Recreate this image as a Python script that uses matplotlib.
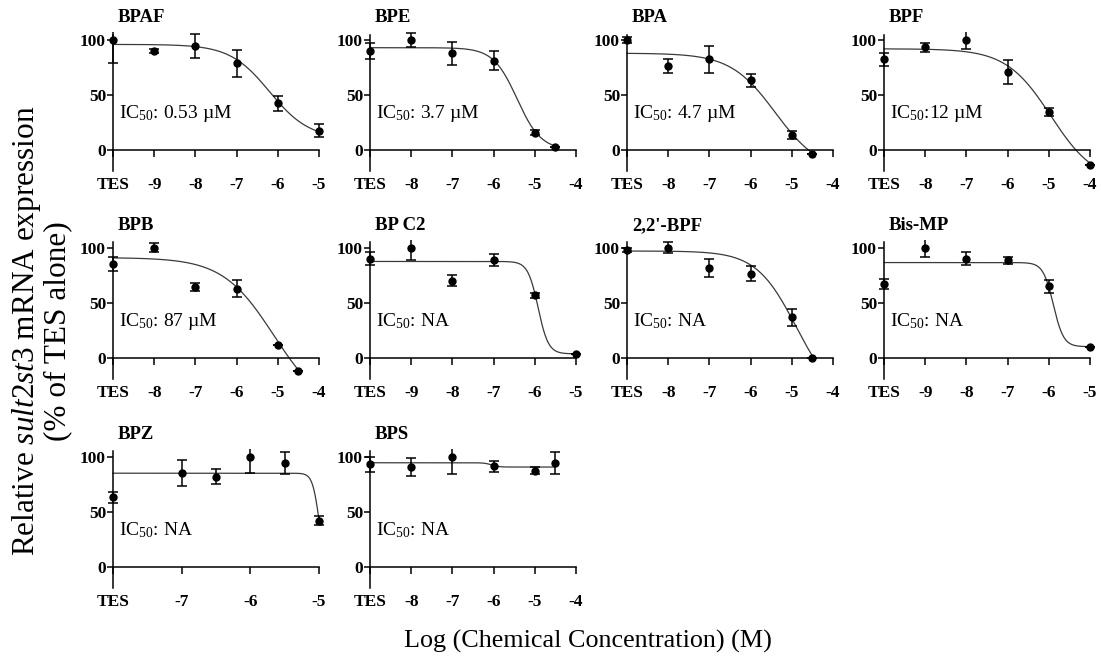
import numpy as np
import matplotlib
matplotlib.use("Agg")
import matplotlib.pyplot as plt

plt.rcParams['font.family'] = ['Liberation Serif', 'DejaVu Serif']
plt.rcParams['mathtext.fontset'] = 'custom'
plt.rcParams['mathtext.rm'] = 'Liberation Serif'
plt.rcParams['mathtext.it'] = 'Liberation Serif:italic'
plt.rcParams['mathtext.bf'] = 'Liberation Serif:bold'

# ---------------- data ----------------
titles = ["BPAF", "BPE", "BPA", "BPF",
          "BPB", "BP C2", "2,2'-BPF", "Bis-MP",
          "BPZ", "BPS"]
ic50_labels = ["IC$_{50}$: 0.53 µM", "IC$_{50}$: 3.7 µM", "IC$_{50}$: 4.7 µM", "IC$_{50}$:12 µM",
               "IC$_{50}$: 87 µM", "IC$_{50}$: NA", "IC$_{50}$: NA", "IC$_{50}$: NA",
               "IC$_{50}$: NA", "IC$_{50}$: NA"]
# x tick positions (log M), first one is the TES-alone position
tick_pos = [[-10, -9, -8, -7, -6, -5],
            [-9, -8, -7, -6, -5, -4],
            [-9, -8, -7, -6, -5, -4],
            [-9, -8, -7, -6, -5, -4],
            [-9, -8, -7, -6, -5, -4],
            [-10, -9, -8, -7, -6, -5],
            [-9, -8, -7, -6, -5, -4],
            [-10, -9, -8, -7, -6, -5],
            [-8, -7, -6, -5],
            [-9, -8, -7, -6, -5, -4]]
tick_lbl = [["TES", "-9", "-8", "-7", "-6", "-5"],
            ["TES", "-8", "-7", "-6", "-5", "-4"],
            ["TES", "-8", "-7", "-6", "-5", "-4"],
            ["TES", "-8", "-7", "-6", "-5", "-4"],
            ["TES", "-8", "-7", "-6", "-5", "-4"],
            ["TES", "-9", "-8", "-7", "-6", "-5"],
            ["TES", "-8", "-7", "-6", "-5", "-4"],
            ["TES", "-9", "-8", "-7", "-6", "-5"],
            ["TES", "-7", "-6", "-5"],
            ["TES", "-8", "-7", "-6", "-5", "-4"]]
# measured points
dose = [[-10, -9, -8, -7, -6, -5],
        [-9, -8, -7, -6, -5, -4.5],
        [-9, -8, -7, -6, -5, -4.5],
        [-9, -8, -7, -6, -5, -4],
        [-9, -8, -7, -6, -5, -4.5],
        [-10, -9, -8, -7, -6, -5],
        [-9, -8, -7, -6, -5, -4.5],
        [-10, -9, -8, -7, -6, -5],
        [-8, -7, -6.5, -6, -5.5, -5],
        [-9, -8, -7, -6, -5, -4.5]]
mean = [[100, 90, 94.5, 78.8, 42.4, 17.6],
        [90, 100, 88, 81.2, 15.8, 3.0],
        [100, 76.6, 82.4, 63.5, 13.6, -3.5],
        [82.6, 93.3, 100, 71, 34.6, -13.9],
        [85.4, 100, 64.3, 62.8, 11.9, -11.9],
        [90, 100, 70.1, 88.7, 56.7, 3.7],
        [97.8, 100, 81.7, 76.5, 36.6, 0.0],
        [67.4, 100, 90, 88.4, 65, 10],
        [63.1, 85.5, 81.8, 100, 93.9, 41.8],
        [93.1, 90.4, 100, 91.5, 87.3, 94]]
sem = [[21, 2, 11, 12.5, 7, 6],
       [7, 6, 10.5, 8.5, 2, 0],
       [3, 6.5, 12.5, 6, 3.6, 0],
       [6, 4, 8, 11, 4, 0],
       [6.5, 4, 3.5, 8, 0, 0],
       [6, 11.5, 5.2, 5.7, 2, 0],
       [2, 5, 8, 6.7, 7.5, 0],
       [4.6, 8, 6, 3, 6, 0],
       [5, 11.7, 7, 15, 10, 4],
       [7, 8, 16, 5, 3, 10]]
# fitted 4-parameter logistic curves: top, bottom, logIC50, Hill slope
fit_top = [96, 93, 88, 92, 91, 87.5, 97, 86.5, 85, 94.5]
fit_bottom = [10, 0, -20, -30, -50, 3.5, -40, 10, 0, 90.6]
fit_logc = [-6.2, -5.43, -5.4, -4.95, -5.1, -5.92, -4.9, -5.89, -5.0, -6.05]
fit_hill = [0.9, 1.5, 0.8, 0.8, 0.7, 3.5, 0.9, 3.5, 9.0, 5.0]

# ---------------- layout ----------------
W, H = 1101, 665
fig = plt.figure(figsize=(W / 100, H / 100), dpi=100)

col_left = [113, 370, 627, 884]
row_y0 = [150, 357.7, 566.7]
span_px = 206
ppu_y = 1.1
ylo, yhi = -19, 107
pad_px = 8

for i, title in enumerate(titles):
    r, c = divmod(i, 4)
    t = tick_pos[i]
    x0, x1 = t[0], t[-1]
    ppu_x = span_px / (x1 - x0)
    pad = pad_px / ppu_x
    left_px = col_left[c] - pad_px
    width_px = span_px + 2 * pad_px
    top_px = row_y0[r] - yhi * ppu_y
    bot_px = row_y0[r] - ylo * ppu_y
    ax = fig.add_axes([left_px / W, 1 - bot_px / H, width_px / W, (bot_px - top_px) / H])
    ax.set_xlim(x0 - pad, x1 + pad)
    ax.set_ylim(ylo, yhi)
    for s in ("top", "right"):
        ax.spines[s].set_visible(False)
    ax.spines["left"].set_position(("data", x0))
    ax.spines["left"].set_bounds(ylo, 105)
    ax.spines["bottom"].set_position(("data", 0))
    ax.spines["bottom"].set_bounds(x0, x1)
    for s in ("left", "bottom"):
        ax.spines[s].set_linewidth(1.1)
    ax.patch.set_visible(False)

    ax.set_yticks([0, 50, 100])
    ax.set_yticklabels(["0", "50", "100"], fontweight="bold", fontsize=12.5)
    ax.set_xticks(t)
    ax.set_xticklabels(tick_lbl[i], fontweight="bold", fontsize=12.5)
    ax.tick_params(axis="y", direction="out", length=4, width=1.1, pad=1)
    ax.tick_params(axis="x", direction="out", length=5, width=1.1, pad=14.5)

    # fitted curve
    xs = np.linspace(x0, dose[i][-1], 400)
    ys = fit_bottom[i] + (fit_top[i] - fit_bottom[i]) / (1 + 10 ** (fit_hill[i] * (xs - fit_logc[i])))
    ax.plot(xs, ys, color="#3a3a3a", lw=0.9, zorder=2)

    # error bars and points
    ax.errorbar(dose[i], mean[i], yerr=sem[i], fmt="none", ecolor="black",
                elinewidth=1.1, capsize=3.5, capthick=1.1, zorder=3)
    ax.plot(dose[i], mean[i], "o", color="black", ms=5, clip_on=False, zorder=4)

    ax.annotate(title, xy=(x0, 100), xycoords="data", xytext=(5, 22),
                textcoords="offset pixels", ha="left", va="center",
                fontsize=13.5, fontweight="bold")
    ax.annotate(ic50_labels[i], xy=(x0, 33), xycoords="data", xytext=(6, 0),
                textcoords="offset pixels", ha="left", va="center", fontsize=14)

fig.text(27 / W, 1 - 331 / H, "Relative $\\it{sult2st3}$ mRNA expression",
         rotation=90, ha="center", va="center", fontsize=22.5)
fig.text(58 / W, 1 - 331 / H, "(% of TES alone)",
         rotation=90, ha="center", va="center", fontsize=22.5)
fig.text(588 / W, 1 - 641 / H, "Log (Chemical Concentration) (M)",
         ha="center", va="center", fontsize=18.8)

fig.savefig("out.png", dpi=100)
